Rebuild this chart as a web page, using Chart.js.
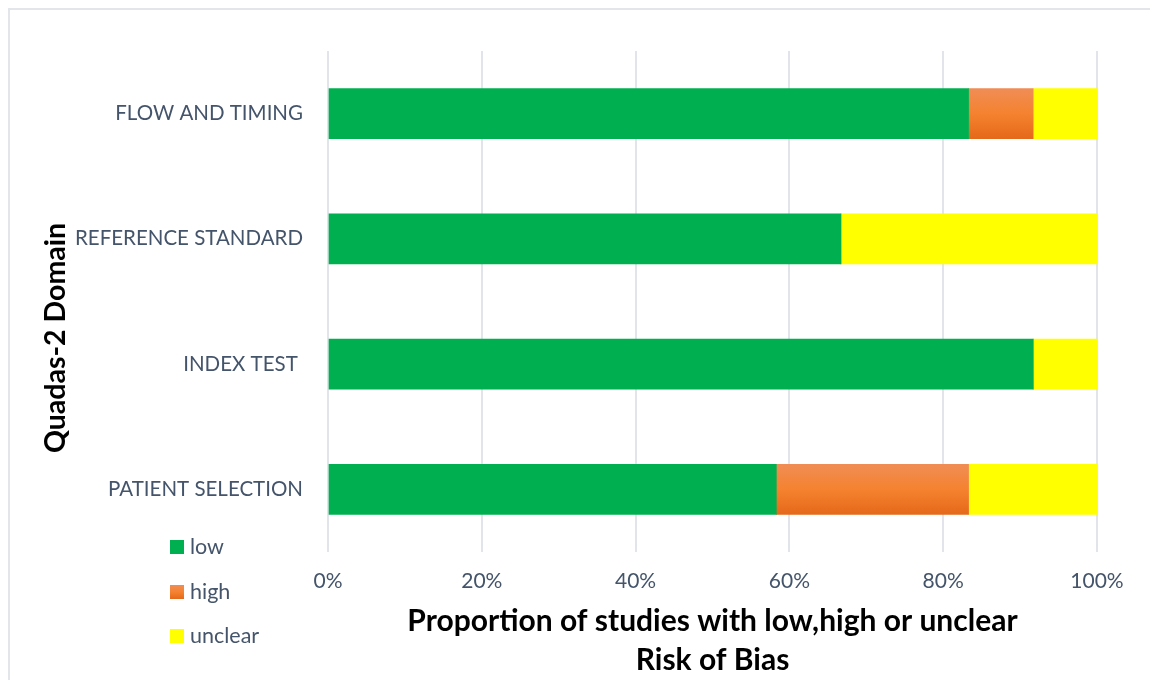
<!DOCTYPE html>
<html>
<head>
<meta charset="utf-8">
<script src="https://cdn.jsdelivr.net/npm/chart.js@4.4.1/dist/chart.umd.min.js"></script>
<style>
  html, body { margin: 0; padding: 0; background: #ffffff; }
  body { width: 1150px; height: 680px; position: relative; overflow: hidden; }
  #frame { position: absolute; left: 8px; top: 8px; width: 1160px; height: 700px;
           border-left: 2px solid #e2e5ea; border-top: 2px solid #e2e5ea; box-sizing: border-box; }
  #wrap { position: absolute; left: 0; top: 0; width: 1150px; height: 680px; }
</style>
</head>
<body>
<div id="frame"></div>
<div id="wrap"><canvas id="chart" width="1150" height="680"></canvas></div>
<script>
// QUADAS-2 domains, top to bottom
const domains = ['FLOW AND TIMING', 'REFERENCE STANDARD', 'INDEX TEST ', 'PATIENT SELECTION'];

// Share of studies (%) per risk-of-bias judgement
const lowRisk     = [83.3, 66.7, 91.7, 58.3];
const highRisk    = [8.4, 0, 0, 25.0];
const unclearRisk = [8.3, 33.3, 8.3, 16.7];

// Axis ticks
const percentTicks = [0, 20, 40, 60, 80, 100];

const FONT = 'Lato, "Open Sans", sans-serif';
const TEXT_GREY = '#44546A';
const BAR_THICK = 50;

function orangeFill(ctx, y0, y1) {
  const g = ctx.createLinearGradient(0, y0, 0, y1);
  g.addColorStop(0, '#F08D55');
  g.addColorStop(0.5, '#F5822F');
  g.addColorStop(1, '#E5691A');
  return g;
}

function highColor(context) {
  const chart = context.chart;
  const yScale = chart.scales && chart.scales.y;
  if (!yScale || context.type !== 'data' || !isFinite(yScale.getPixelForValue(context.dataIndex))) {
    return '#F5822F';
  }
  const yc = yScale.getPixelForValue(context.dataIndex);
  return orangeFill(chart.ctx, yc - BAR_THICK / 2, yc + BAR_THICK / 2);
}

// Vertical legend in the lower-left corner and the rotated domain caption
const sideDecor = {
  id: 'sideDecor',
  afterDraw(chart) {
    const ctx = chart.ctx;
    ctx.save();
    const rows = [547, 592, 636];
    chart.data.datasets.forEach((ds, i) => {
      const y = rows[i];
      ctx.fillStyle = i === 1 ? orangeFill(ctx, y - 7, y + 7) : ds.legendColor;
      ctx.fillRect(170, y - 7, 14, 14);
      ctx.fillStyle = TEXT_GREY;
      ctx.font = '21.5px ' + FONT;
      ctx.textAlign = 'left';
      ctx.textBaseline = 'middle';
      ctx.fillText(ds.label, 190, y);
    });
    ctx.translate(56, 338);
    ctx.rotate(-Math.PI / 2);
    ctx.fillStyle = '#000000';
    ctx.font = 'bold 28.5px ' + FONT;
    ctx.textAlign = 'center';
    ctx.textBaseline = 'middle';
    ctx.fillText('Quadas-2 Domain', 0, 0);
    ctx.restore();
  }
};

new Chart(document.getElementById('chart'), {
  type: 'bar',
  data: {
    labels: domains,
    datasets: [
      { label: 'low', data: lowRisk, backgroundColor: '#00B050', legendColor: '#00B050' },
      { label: 'high', data: highRisk, backgroundColor: highColor, legendColor: '#F5822F' },
      { label: 'unclear', data: unclearRisk, backgroundColor: '#FFFF00', legendColor: '#FFFF00' }
    ]
  },
  options: {
    indexAxis: 'y',
    responsive: false,
    animation: false,
    devicePixelRatio: 1,
    layout: { padding: { top: 51, right: 53, left: 0, bottom: 0 } },
    datasets: { bar: { barThickness: BAR_THICK, borderWidth: 0 } },
    plugins: { legend: { display: false }, tooltip: { enabled: false } },
    scales: {
      x: {
        stacked: true,
        min: 0,
        max: 100,
        afterBuildTicks(scale) { scale.ticks = percentTicks.map(v => ({ value: v })); },
        afterFit(scale) { scale.height = 128; },
        grid: { color: '#E1E4EA', lineWidth: 2, drawTicks: false },
        border: { display: false },
        ticks: {
          padding: 17,
          color: TEXT_GREY,
          font: { family: FONT, size: 21 },
          callback: v => v + '%'
        },
        title: {
          display: true,
          text: ['Proportion of studies with low,high or unclear', 'Risk of Bias'],
          color: '#000000',
          font: { family: FONT, size: 30, weight: 'bold', lineHeight: 39 / 30 },
          padding: { top: 0, bottom: 0 }
        }
      },
      y: {
        stacked: true,
        afterFit(scale) { scale.width = 328; },
        grid: { display: false, drawTicks: false },
        border: { display: false },
        ticks: {
          padding: 25,
          color: TEXT_GREY,
          font: { family: FONT, size: 20.5 }
        }
      }
    }
  },
  plugins: [sideDecor]
});
</script>
</body>
</html>
